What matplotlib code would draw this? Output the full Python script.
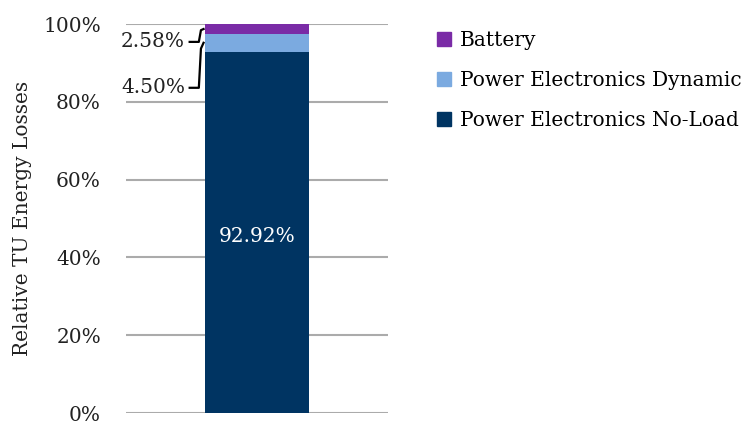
import matplotlib
matplotlib.use("Agg")
import matplotlib.pyplot as plt
from matplotlib.patches import Patch

categories = ["Power Electronics No-Load", "Power Electronics Dynamic", "Battery"]
values = [92.92, 4.50, 2.58]
colors = ["#003462", "#7BAAE0", "#7A2BA6"]
yticks = [0, 20, 40, 60, 80, 100]

plt.rcParams['font.family'] = ['DejaVu Serif']
FS = 14.5

fig = plt.figure(figsize=(7.53, 4.23), dpi=100)
ax = fig.add_axes([126/753, 1-413/423, 262/753, 389/423])

bottom = 0
mids = []
for cat, v, c in zip(categories, values, colors):
    ax.bar(0, v, width=0.4, bottom=bottom, color=c, label=cat, zorder=3)
    mids.append(bottom + v/2)
    bottom += v

ax.set_xlim(-0.5, 0.5)
ax.set_ylim(0, 100)
ax.set_yticks(yticks)
ax.set_yticklabels([f"{t}%" for t in yticks], fontsize=FS, color="#222222")
ax.set_xticks([])
ax.tick_params(axis='y', length=0, pad=18)
for s in ax.spines.values():
    s.set_visible(False)
ax.grid(axis='y', color="#ABABAB", linewidth=1.5, zorder=0)
ax.set_ylabel("Relative TU Energy Losses", fontsize=FS, color="#222222", labelpad=8)

# inside label
ax.text(0, mids[0] - 1.2, f"{values[0]:.2f}%", ha='center', va='center', color='white', fontsize=FS, zorder=4)

# leader labels
bar_left = -0.2
lab_x = -0.275
# battery
ax.text(lab_x, 95.4, f"{values[2]:.2f}%", ha='right', va='center', fontsize=FS, color="#222222")
ax.plot([lab_x + 0.018, bar_left - 0.022, bar_left - 0.014, bar_left - 0.004],
        [95.4, 95.4, mids[2] - 0.3, mids[2]], color='black', lw=1.6, clip_on=False, zorder=4)
# dynamic
ax.text(lab_x, 83.6, f"{values[1]:.2f}%", ha='right', va='center', fontsize=FS, color="#222222")
ax.plot([lab_x + 0.018, bar_left - 0.022, bar_left - 0.014, bar_left - 0.004],
        [83.6, 83.6, mids[1] - 1.5, mids[1]], color='black', lw=1.6, clip_on=False, zorder=4)

handles = [Patch(color=colors[2]), Patch(color=colors[1]), Patch(color=colors[0])]
labels = [categories[2], categories[1], categories[0]]
fig.legend(handles, labels, loc='upper left', bbox_to_anchor=(437/753, 1-31/423),
           frameon=False, fontsize=FS, handlelength=0.7, handleheight=0.7,
           handletextpad=0.45, labelspacing=1.05, borderaxespad=0, borderpad=0)

fig.savefig("out.png", dpi=100)
